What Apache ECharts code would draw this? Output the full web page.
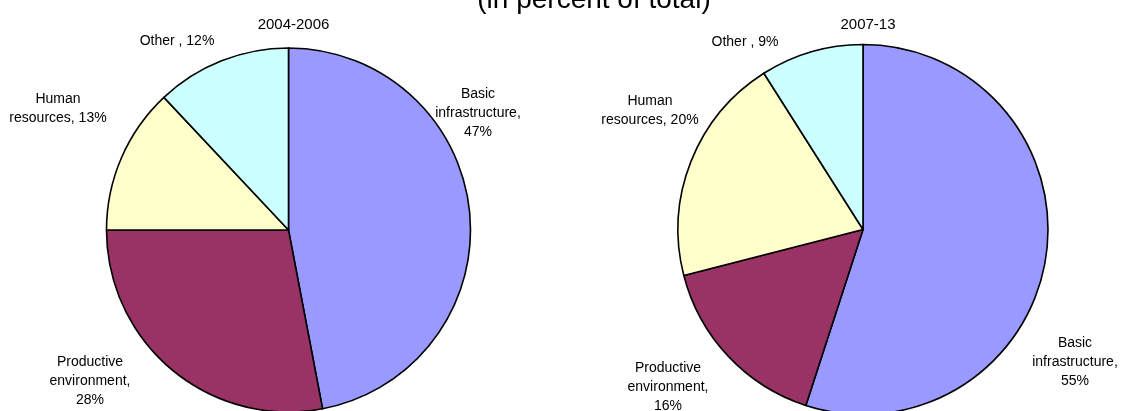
<!DOCTYPE html>
<html>
<head>
<meta charset="utf-8">
<script src="https://cdn.jsdelivr.net/npm/echarts@6/dist/echarts.min.js"></script>
<style>
html,body{margin:0;padding:0;background:#fff;}
#chart{width:1127px;height:411px;}
</style>
</head>
<body>
<div id="chart"></div>
<script>
// ---- data ----
var mainTitle = '(in percent of total)';
var periods = ['2004-2006', '2007-13'];
var categories = ['Basic infrastructure', 'Productive environment', 'Human resources', 'Other '];
var labelTexts = [
  ['Basic\ninfrastructure,\n', 'Productive\nenvironment,\n', 'Human\nresources, ', 'Other , '],
  ['Basic\ninfrastructure,\n', 'Productive\nenvironment,\n', 'Human\nresources, ', 'Other , ']
];
var values2004 = [47, 28, 13, 12];
var values2007 = [55, 16, 20, 9];
var colors = ['#9999FF', '#993366', '#FFFFCC', '#CCFFFF'];

// ---- layout / style ----
var pieCenters = [[288.5, 230], [863, 229.5]];
var pieRadii = [182, 185];
// label block centre offsets relative to pie centre (style)
var labelOffsets = [
  [[189.5, -117], [-198.5, 151], [-230.5, -121], [-111.5, -189]],
  [[212, 132.5], [-195, 157.5], [-213, -118.5], [-118, -187.5]]
];
var font = 'Liberation Sans, Arial, sans-serif';

function buildSeries(idx, values) {
  return {
    type: 'pie',
    center: pieCenters[idx],
    radius: pieRadii[idx],
    startAngle: 90,
    clockwise: true,
    avoidLabelOverlap: false,
    animation: false,
    silent: true,
    data: values.map(function (v, i) {
      return {
        name: categories[i],
        value: v,
        itemStyle: { color: colors[i] },
        label: { formatter: labelTexts[idx][i] + v + '%' }
      };
    }),
    itemStyle: { borderColor: '#000', borderWidth: 1.6 },
    label: {
      show: true,
      position: 'outside',
      fontFamily: font,
      fontSize: 14,
      lineHeight: 19,
      color: '#000'
    },
    labelLine: { show: false },
    labelLayout: function (p) {
      var c = pieCenters[p.seriesIndex];
      var o = labelOffsets[p.seriesIndex][p.dataIndex];
      return { x: c[0] + o[0], y: c[1] + o[1], align: 'center', verticalAlign: 'middle' };
    }
  };
}

var chart = echarts.init(document.getElementById('chart'), null, { renderer: 'canvas' });
chart.setOption({
  backgroundColor: '#fff',
  animation: false,
  title: [
    { text: mainTitle, left: 589, top: -19, textAlign: 'center',
      textStyle: { fontFamily: font, fontSize: 28, fontWeight: 'normal', color: '#000' } },
    { text: periods[0], left: pieCenters[0][0], top: 12, textAlign: 'center',
      textStyle: { fontFamily: font, fontSize: 15, fontWeight: 'normal', color: '#000' } },
    { text: periods[1], left: pieCenters[1][0], top: 12, textAlign: 'center',
      textStyle: { fontFamily: font, fontSize: 15, fontWeight: 'normal', color: '#000' } }
  ],
  series: [buildSeries(0, values2004), buildSeries(1, values2007)]
});
</script>
</body>
</html>
